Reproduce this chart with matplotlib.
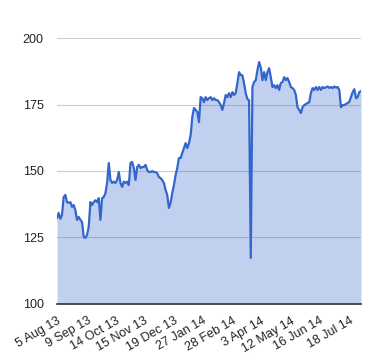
#!/usr/bin/env python
# coding:utf-8
"""plot.py - area chart of a daily price series"""

import matplotlib
matplotlib.use('Agg')
import matplotlib.pyplot as plt

plt.rcParams['font.family'] = ['Liberation Sans', 'DejaVu Sans']

# daily closes (Aug 2013 - Jul 2014)
prices = [
    132.3, 134.2, 132.0, 133.5, 140.2, 141.0, 138.3, 138.0, 138.3, 136.5,
    137.2, 135.3, 131.6, 132.7, 131.6, 130.8, 125.2, 124.8, 126.0, 129.0,
    138.3, 137.2, 138.3, 139.0, 138.3, 139.8, 131.6, 139.8, 140.2, 141.7,
    145.5, 153.0, 146.6, 145.5, 146.0, 145.5, 146.6, 149.6,
    145.5, 144.0, 146.0, 145.5, 146.0, 144.7, 153.0, 153.4, 151.1, 146.6,
    151.5, 152.3, 151.1, 151.5, 151.5, 152.3, 150.4, 149.6, 149.6, 150.0,
    149.6, 149.6, 149.2, 147.7, 147.3, 146.6, 145.5, 142.9, 141.0, 136.1,
    138.0, 141.7, 144.7, 148.5, 151.1, 154.9,
    154.9, 156.8, 158.6, 160.5, 158.6, 160.5, 163.5, 170.3, 173.7, 173.0,
    172.2, 168.4, 177.8, 177.4, 175.9, 177.8, 176.7, 177.4, 177.8, 176.7,
    177.4, 176.7, 176.7, 175.9, 174.8, 173.0, 175.6, 178.6, 177.8, 179.3,
    177.8, 179.7, 178.6, 179.3, 183.1, 187.2, 186.1,
    186.0, 183.0, 179.3, 177.0, 176.7, 117.3, 181.6, 183.5, 184.2, 188.0,
    191.0, 189.0, 184.2, 187.2, 184.2, 187.2, 188.7, 185.3, 181.6, 182.3,
    181.2, 182.3, 180.5, 183.1, 183.5, 185.3, 184.2, 185.0, 183.5, 181.6,
    181.2, 180.5, 178.6, 174.0, 173.0, 171.8, 174.0, 174.8, 175.2, 175.6,
    175.9, 179.3, 181.2, 180.5, 181.6, 180.5, 181.6, 180.5, 181.6, 181.2,
    181.5, 181.8, 181.3, 181.6, 181.2, 181.8, 181.4, 181.6, 180.5, 174.0,
    174.8, 174.8, 175.2, 175.6, 176.0, 177.8, 179.7, 180.8, 177.4, 177.8,
    179.7, 180.1,
]

tick_index = [0, 18, 35, 52, 70, 87, 105, 122, 140, 157, 175]
tick_labels = ['5 Aug 13', '9 Sep 13', '14 Oct 13', '15 Nov 13', '19 Dec 13',
               '27 Jan 14', '28 Feb 14', '3 Apr 14', '12 May 14', '16 Jun 14',
               '18 Jul 14']
y_ticks = [100, 125, 150, 175, 200]


def main():
  """Main function"""
  fig = plt.figure(figsize=(3.8, 3.6), dpi=100)
  ax = fig.add_axes([0.150, 0.156, 0.800, 0.738])
  days = list(range(len(prices)))

  ax.fill_between(days, prices, 100, color='#3366cc', alpha=0.3, linewidth=0)
  ax.plot(days, prices, color='#3366cc', linewidth=1.6)

  ax.set_xlim(0, len(prices) - 1)
  ax.set_ylim(100, 200)
  ax.set_yticks(y_ticks)
  ax.set_xticks(tick_index)
  ax.set_xticklabels(tick_labels, rotation=30, ha='right', rotation_mode='anchor')
  ax.tick_params(axis='both', length=0, labelsize=9, colors='#222222')
  ax.tick_params(axis='y', pad=9.5)
  ax.tick_params(axis='x', pad=8)

  ax.yaxis.grid(True, color='#cccccc', linewidth=0.8)
  ax.set_axisbelow(True)
  for side in ['top', 'right', 'left']:
    ax.spines[side].set_visible(False)
  ax.spines['bottom'].set_color('#333333')
  ax.spines['bottom'].set_linewidth(1.2)

  fig.savefig('out.png', dpi=100)
  plt.close(fig)


if __name__ == '__main__':
  main()
